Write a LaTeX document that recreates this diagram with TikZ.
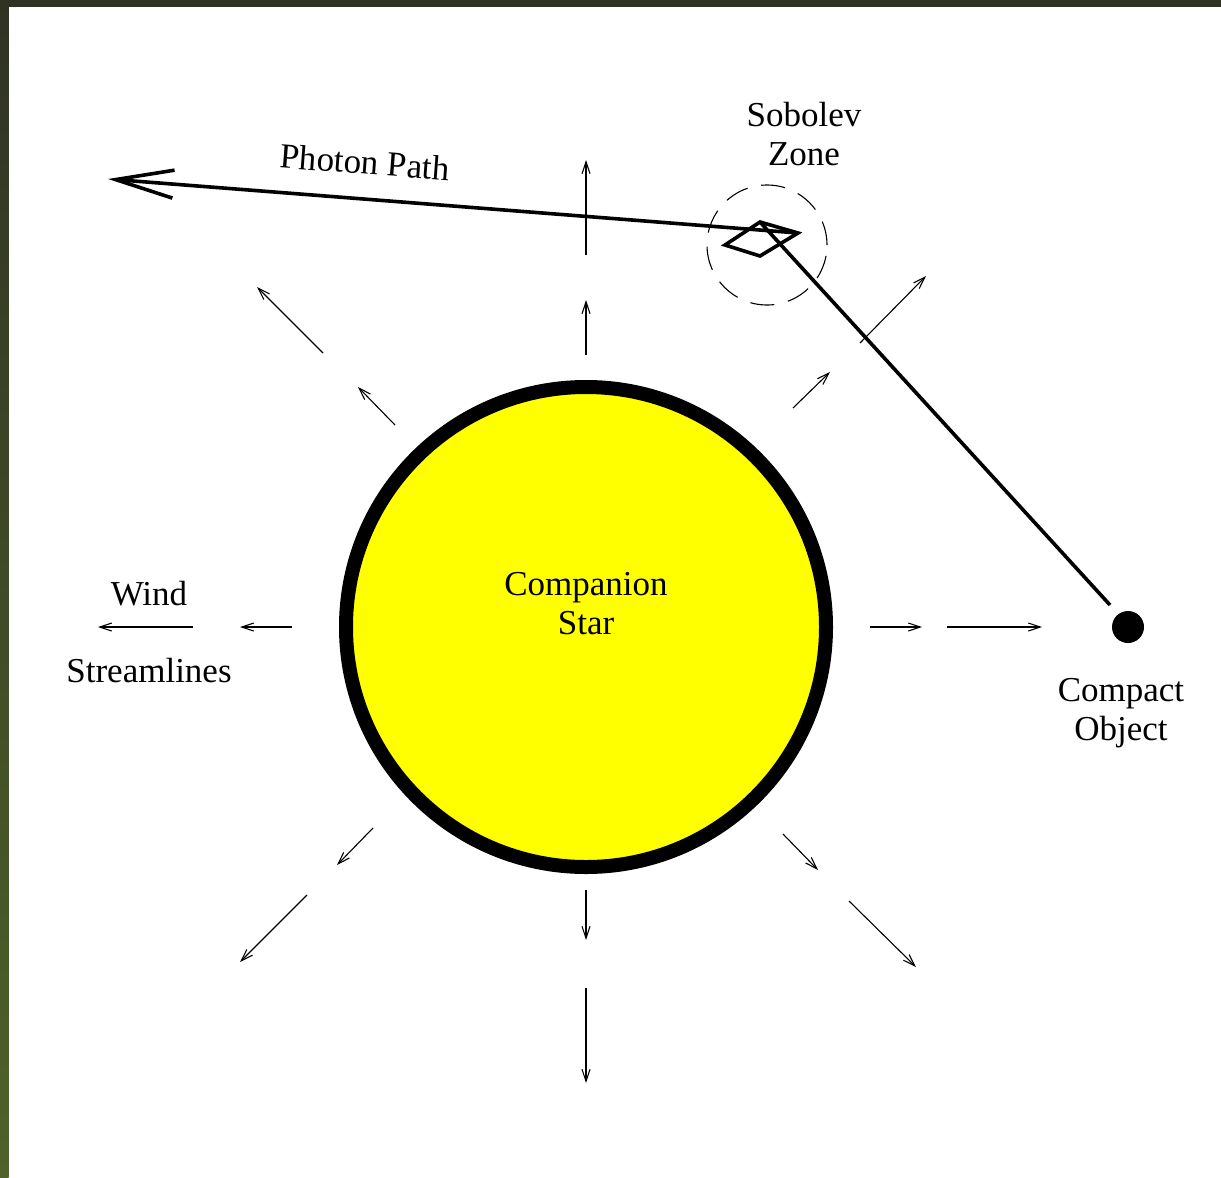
\documentclass[tikz,border=0pt]{standalone}
\usepackage{fontspec}
\setmainfont{Liberation Serif}
\usetikzlibrary{arrows.meta}
\definecolor{frametop}{HTML}{303324}
\definecolor{framebot}{HTML}{4F6229}
\definecolor{staryellow}{RGB}{255,255,0}
\tikzset{
  wind/.style={line width=1.1pt,-{Straight Barb[length=12pt,width=8pt,line width=1.1pt]}},
  thick line/.style={line width=3.6pt},
  label/.style={font=\fontsize{35}{39}\selectfont,align=center,inner sep=0pt}
}
\begin{document}
\begin{tikzpicture}[x=1pt,y=-1pt]
\useasboundingbox (0,0) rectangle (1221,1178);
\fill[white] (0,0) rectangle (1221,1178);
\shade[top color=frametop,bottom color=framebot] (0,0) rectangle (8.7,1178);
\fill[frametop] (0,0) rectangle (1221,7);
% star
\node (star) [circle,draw=black,fill=staryellow,line width=14pt,minimum size=480pt,inner sep=0pt] at (586,627) {};
\node[label] (starlbl) at (586,604) {Companion\\Star};
% compact object
\node (co) [circle,fill=black,minimum size=32pt,inner sep=0pt] at (1128,627) {};
\node[label] (colbl) at (1121,713) {Compact\\Object};
% sobolev zone
\node (zone) [circle,draw=black,dashed,dash pattern=on 24pt off 14pt,line width=1.1pt,minimum size=120pt,inner sep=0pt] at (767,245) {};
\node[label] (zonelbl) at (804,134) {Sobolev\\Zone};
\coordinate (dt) at (760,222);
\coordinate (dl) at (725,245);
\coordinate (db) at (760,256);
\coordinate (dr) at (798,233);
\draw[line width=3.6pt,line join=miter] (dt) -- (dl) -- (db) -- (dr) -- cycle;
% photon path
\coordinate (phend) at (108,179);
\coordinate (costart) at (1110,605);
\draw[thick line] (costart) -- (dt);
\draw[thick line,-{Straight Barb[length=58pt,width=28pt,line width=3.6pt]}] (dr) -- (phend);
\node[label,rotate=-4.3] (phlbl) at (365,162) {Photon Path};
% wind labels
\node[label] (windlbl) at (149,594) {Wind};
\node[label] (streamlbl) at (149,671) {Streamlines};
% wind arrows
\coordinate (u1a) at (586,355); \coordinate (u1b) at (586,300);
\coordinate (u2a) at (586,255); \coordinate (u2b) at (586,160);
\coordinate (d1a) at (586,890); \coordinate (d1b) at (586,940);
\coordinate (d2a) at (586,988); \coordinate (d2b) at (586,1083);
\coordinate (l1a) at (292,627); \coordinate (l1b) at (240,627);
\coordinate (l2a) at (193,627); \coordinate (l2b) at (98,627);
\coordinate (r1a) at (870,627); \coordinate (r1b) at (922,627);
\coordinate (r2a) at (947,627); \coordinate (r2b) at (1042,627);
\coordinate (ul1a) at (395,425); \coordinate (ul1b) at (358,387);
\coordinate (ul2a) at (323,353); \coordinate (ul2b) at (257,287);
\coordinate (ur1a) at (793,408); \coordinate (ur1b) at (830,372);
\coordinate (ur2a) at (860,343); \coordinate (ur2b) at (926,276);
\coordinate (dl1a) at (373,828); \coordinate (dl1b) at (337,865);
\coordinate (dl2a) at (307,895); \coordinate (dl2b) at (240,962);
\coordinate (dr1a) at (783,834); \coordinate (dr1b) at (818,870);
\coordinate (dr2a) at (849,901); \coordinate (dr2b) at (916,967);
\foreach \n in {u1,u2,d1,d2,l1,l2,r1,r2,ul1,ul2,ur1,ur2,dl1,dl2,dr1,dr2}
  \draw[wind] (\n a) -- (\n b);
\end{tikzpicture}
\end{document}
